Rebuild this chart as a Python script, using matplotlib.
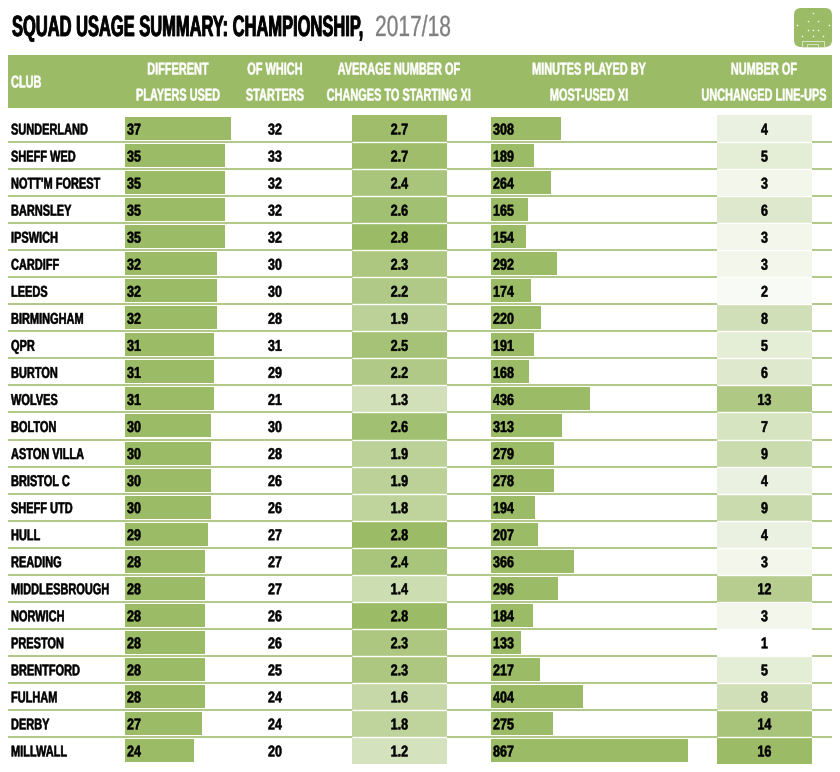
import matplotlib
matplotlib.use("Agg")
import matplotlib.pyplot as plt
from matplotlib.colors import LinearSegmentedColormap, Normalize
from matplotlib.patches import FancyBboxPatch, Rectangle
from matplotlib.patheffects import AbstractPathEffect
from matplotlib.transforms import Affine2D, Bbox
import numpy as np

clubs = ["SUNDERLAND", "SHEFF WED", "NOTT'M FOREST", "BARNSLEY", "IPSWICH", "CARDIFF", "LEEDS",
         "BIRMINGHAM", "QPR", "BURTON", "WOLVES", "BOLTON", "ASTON VILLA", "BRISTOL C", "SHEFF UTD",
         "HULL", "READING", "MIDDLESBROUGH", "NORWICH", "PRESTON", "BRENTFORD", "FULHAM", "DERBY", "MILLWALL"]
players = [37, 35, 35, 35, 35, 32, 32, 32, 31, 31, 31, 30, 30, 30, 30, 29, 28, 28, 28, 28, 28, 28, 27, 24]
starters = [32, 33, 32, 32, 32, 30, 30, 28, 31, 29, 21, 30, 28, 26, 26, 27, 27, 27, 26, 26, 25, 24, 24, 20]
changes = [2.7, 2.7, 2.4, 2.6, 2.8, 2.3, 2.2, 1.9, 2.5, 2.2, 1.3, 2.6, 1.9, 1.9, 1.8, 2.8, 2.4, 1.4, 2.8, 2.3, 2.3, 1.6, 1.8, 1.2]
minutes = [308, 189, 264, 165, 154, 292, 174, 220, 191, 168, 436, 313, 279, 278, 194, 207, 366, 296, 184, 133, 217, 404, 275, 867]
unchanged = [4, 5, 3, 6, 3, 3, 2, 8, 5, 6, 13, 7, 9, 4, 9, 4, 3, 12, 3, 1, 5, 8, 14, 16]

GREEN = "#9BBB66"
plt.rcParams["font.family"] = ["Liberation Sans", "DejaVu Sans"]
plt.rcParams["font.weight"] = "bold"

W, H = 840, 772
fig = plt.figure(figsize=(W / 100, H / 100), dpi=100, facecolor="white")


class Squeeze(AbstractPathEffect):
    """Narrows glyphs horizontally (the reference uses a condensed face)."""

    def __init__(self, sx, stroke):
        super().__init__()
        self.sx, self.stroke = sx, stroke

    def draw_path(self, renderer, gc, tpath, affine, rgbFace=None):
        new = Affine2D().scale(self.sx, 1) + affine
        g = renderer.new_gc()
        g.copy_properties(gc)
        if self.stroke > 0:
            g.set_linewidth(self.stroke)
            g.set_foreground(rgbFace)
        renderer.draw_path(g, tpath, new, rgbFace)
        g.restore()


def ntext(ax, x, y, s, sx, stroke=0.35, **kw):
    kw.setdefault("va", "center")
    t = ax.text(x, y, s, **kw)
    t.set_path_effects([Squeeze(sx, stroke)])
    orig = t._get_layout

    def layout(renderer):
        b, info, descent = orig(renderer)
        nb = Bbox([[b.x0 * sx, b.y0], [b.x1 * sx, b.y1]])
        return nb, [(ln, (wh[0] * sx, wh[1]), lx * sx, ly) for ln, wh, lx, ly in info], descent

    t._get_layout = layout
    return t


def px_axes(x0, y0, x1, y1):
    a = fig.add_axes([x0 / W, 1 - y1 / H, (x1 - x0) / W, (y1 - y0) / H])
    a.axis("off")
    a.patch.set_alpha(0)
    return a


base = px_axes(0, 0, W, H)
base.set_xlim(0, W)
base.set_ylim(H, 0)

# title
ntext(base, 12, 28, "SQUAD USAGE SUMMARY: CHAMPIONSHIP,", 0.565, stroke=0.6, fontsize=21, ha="left", color="black")
ntext(base, 375, 28, "2017/18", 0.72, stroke=0.2, fontsize=21, ha="left", color="#7F7F7F", fontweight="normal")

# logo
base.add_patch(FancyBboxPatch((800, 14), 26, 27, boxstyle="round,pad=6,rounding_size=7", fc=GREEN, ec="none"))
base.plot([813, 797, 808, 818, 829, 802, 813, 823, 808, 818, 813],
          [13, 25, 21, 21, 25, 36, 30, 36, 30, 30, 36], ls="", marker="o", ms=1.1, mew=0, color="white")
base.add_patch(Rectangle((802, 41), 22, 6, fc="none", ec="#DCE6CA", lw=0.7))
base.add_patch(Rectangle((807, 44), 11, 3, fc="none", ec="#DCE6CA", lw=0.6))

# header
base.add_patch(Rectangle((8, 55), 824, 53, fc=GREEN, ec="none"))
HS, HX = 12.3, 0.64
ntext(base, 11, 83, "CLUB", HX, color="white", fontsize=HS, ha="left")
headers = [(178, "DIFFERENT", "PLAYERS USED"), (275, "OF WHICH", "STARTERS"),
           (399, "AVERAGE NUMBER OF", "CHANGES TO STARTING XI"), (589, "MINUTES PLAYED BY", "MOST-USED XI"),
           (764, "NUMBER OF", "UNCHANGED LINE-UPS")]
for x, a, b in headers:
    ntext(base, x, 70, a, HX, color="white", fontsize=HS, ha="center")
    ntext(base, x, 96, b, HX, color="white", fontsize=HS, ha="center")

n = len(clubs)
TOP, BOT = 115, 764
rows = np.arange(n)
RH = (BOT - TOP) / n
row_y = TOP + RH * (rows + 0.5)
TEXT_DROP = 1.5  # px

# separators
base.hlines(TOP + RH * rows[1:], 8, 832, color=GREEN, lw=1.1)

TS, TX, DX = 11.3, 0.70, 0.80
for y, c, s in zip(row_y, clubs, starters):
    ntext(base, 11, y + TEXT_DROP, c, TX, fontsize=TS, ha="left")
    ntext(base, 275, y + TEXT_DROP, str(s), DX, fontsize=TS, ha="center")


def bar_col(values, x0, px_per, xmax, pad):
    a = px_axes(x0, TOP, x0 + px_per * xmax, BOT)
    a.set_xlim(0, xmax)
    a.set_ylim(n - 0.5, -0.5)
    a.barh(rows, values, height=23 / RH, color=GREEN, lw=0)
    for i, v in enumerate(values):
        ntext(a, pad / px_per, i + TEXT_DROP / RH, str(v), DX, fontsize=TS, ha="left")


bar_col(players, 125, 106 / 37, 37, 2)
bar_col(minutes, 491, 197 / 867, 867, 2)


def heat_col(values, x0, x1, vmin, vmax, fmt):
    cmap = LinearSegmentedColormap.from_list("g", ["white", GREEN])
    a = px_axes(x0, TOP, x1, BOT)
    a.set_xlim(0, 1)
    a.set_ylim(n, 0)
    a.pcolormesh([0, 1], np.arange(n + 1), np.array(values, dtype=float)[:, None], cmap=cmap,
                 norm=Normalize(vmin, vmax))
    a.hlines(rows[1:], 0, 1, color="white", lw=1.0)
    for i, v in enumerate(values):
        ntext(a, 0.5, i + 0.5 + TEXT_DROP / RH, fmt.format(v), DX, fontsize=TS, ha="center")


heat_col(changes, 352, 447, 0, 2.8, "{:.1f}")
heat_col(unchanged, 717, 812, 1, 16, "{}")

fig.savefig("out.png", dpi=100, facecolor="white")
